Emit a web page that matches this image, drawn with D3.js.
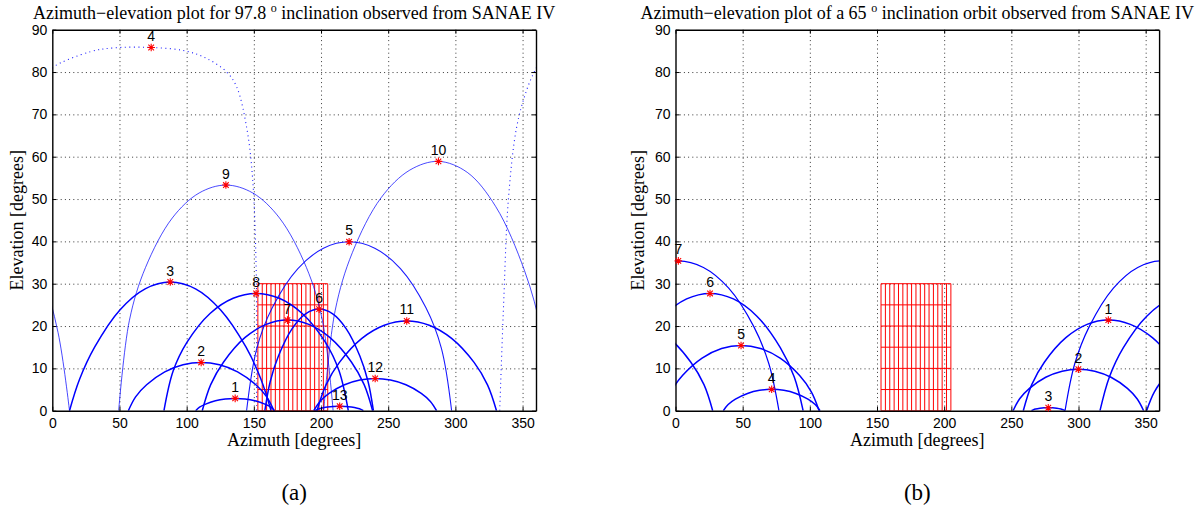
<!DOCTYPE html>
<html>
<head>
<meta charset="utf-8">
<script src="https://cdn.jsdelivr.net/npm/d3@7"></script>
<style>
  body { margin: 0; background: #fff; }
  svg { display: block; }
</style>
</head>
<body>
<svg id="chart" width="1203" height="508"></svg>
<script>
// Left panel: 97.8 deg inclination, passes as [azimuth, elevation]
const L1 = [[106.7,0],[109.6,0.84],[114.1,1.56],[121.4,2.34],[128.8,2.76],[136.1,2.9],[143.5,2.76],[150.8,2.34],[158.2,1.56],[162.6,0.84],[165.5,0]];
const L2 = [[56.6,0],[62.0,3.28],[70.2,6.13],[83.7,9.19],[97.3,10.86],[110.8,11.4],[124.4,10.86],[137.9,9.19],[151.5,6.13],[159.6,3.28],[165,0]];
const L3 = [[12.8,0],[20.3,7.42],[31.6,15.05],[50.3,23.8],[69.1,28.79],[87.8,30.4],[106.6,28.79],[125.3,23.8],[144.1,15.05],[155.3,7.42],[162.8,0]];
const L4 = [[-27,0],[-24,26],[-20.6,49.7],[-14.4,67],[-7,75.7],[-1.3,80],[1,81.2],[28.3,84.8],[45.6,85.7],[73.6,85.8],[98.9,85],[114.9,83.2],[129.8,80],[137.2,76.5],[144.6,67],[149,55.2],[151.8,32.4],[152,0]];
const L5 = [[144.6,0],[152.2,14.72],[163.7,24.3],[182.8,33.56],[201.8,38.38],[220.9,39.9],[240.0,38.38],[259.1,33.56],[278.1,24.3],[289.6,14.72],[297.2,0]];
const L6 = [[158.2,0],[162.2,6.91],[168.3,12.91],[178.4,19.34],[188.5,22.87],[198.6,24],[208.7,22.87],[218.8,19.34],[228.9,12.91],[235.0,6.91],[239,0]];
const L7 = [[111.6,0],[117.9,6.16],[127.5,11.51],[143.3,17.25],[159.2,20.39],[175,21.4],[190.9,20.39],[206.7,17.25],[222.6,11.51],[232.1,6.16],[238.4,0]];
const L8 = [[83.1,0],[90.0,9.42],[100.3,16.18],[117.4,22.96],[134.6,26.56],[151.7,27.7],[168.9,26.56],[186,22.96],[203.2,16.18],[213.4,9.42],[220.3,0]];
const L9 = [[49.4,0],[57.4,21.37],[69.4,33.85],[89.3,45.52],[109.3,51.43],[129.2,53.3],[149.2,51.43],[169.1,45.52],[189.1,33.85],[201.0,21.37],[209,0]];
const L10 = [[202,0],[210.5,23.62],[223.4,37.4],[244.7,50.3],[266.1,56.84],[287.4,58.9],[308.8,56.31],[330.1,48.18],[351.5,33.04],[364.3,18.44],[372.8,0]];
const L11 = [[197,0],[203.7,6.11],[213.7,11.41],[230.4,17.09],[247.1,20.2],[263.8,21.2],[280.5,20.2],[297.2,17.09],[313.9,11.41],[323.9,6.11],[330.6,0]];
const L12 = [[194.6,0],[199.2,2.19],[206.0,4.09],[217.5,6.13],[228.9,7.24],[240.3,7.6],[251.7,7.24],[263.2,6.13],[274.6,4.09],[281.4,2.19],[286,0]];
const L13 = [[195.7,0],[197.5,0.31],[200.2,0.57],[204.7,0.85],[209.1,1.01],[213.6,1.06],[218.1,1.01],[222.6,0.85],[227.0,0.57],[229.7,0.31],[231.5,0]];
const leftPasses = [L1, L2, L3, L4, L5, L6, L7, L8, L9, L10, L11, L12, L13];
const leftPeaks = [[136.1,2.9],[110.8,11.4],[87.8,30.4],[73.6,85.8],[220.9,39.9],[198.6,24.0],[175,21.4],[151.7,27.7],[129.2,53.3],[287.4,58.9],[263.8,21.2],[240.3,7.6],[213.9,1.06]];
const leftLabels = ['1','2','3','4','5','6','7','8','9','10','11','12','13'];

// Right panel: 65 deg inclination
const R1 = [[258.9,0],[265.2,6.16],[274.7,11.51],[290.6,17.25],[306.4,20.39],[322.2,21.4],[338.6,20.39],[355.0,17.25],[371.3,11.51],[381.2,6.16],[387.7,0]];
const R2 = [[251.3,0],[256.2,2.82],[263.5,5.27],[275.6,7.9],[287.8,9.34],[299.9,9.8],[312.1,9.34],[324.2,7.9],[336.4,5.27],[343.6,2.82],[348.5,0]];
const R3 = [[265,0],[266.3,0.2],[268.1,0.38],[271.3,0.56],[274.4,0.67],[277.5,0.7],[280.6,0.67],[283.8,0.56],[286.9,0.38],[288.8,0.2],[290,0]];
const R4 = [[35.6,0],[39.2,1.45],[44.6,2.72],[53.6,4.07],[62.6,4.81],[71.6,5.05],[80.6,4.81],[89.6,4.07],[98.6,2.72],[104.0,1.45],[107.6,0]];
const R5 = [[-9.3,0],[-3.5,4.44],[5.2,8.29],[19.8,12.41],[34.3,14.68],[48.8,15.4],[63.3,14.68],[77.9,12.41],[92.4,8.29],[101.1,4.44],[106.9,0]];
const R6 = [[-44,0],[-37.0,7.98],[-26.6,14.9],[-9.2,22.33],[8.3,26.4],[25.7,27.7],[43.1,26.4],[60.6,22.33],[78.0,14.9],[88.4,7.98],[95,0]];
const R7 = [[-70,0],[-62.8,11.08],[-52.0,19.86],[-34.0,28.96],[-15.9,33.84],[2.1,35.4],[20.8,33.84],[39.6,28.96],[58.3,19.86],[69.5,11.08],[77,0]];
const rightPasses = [R1, R2, R3, R4, R5, R6, R7];
const rightPeaks = [[322.2,21.4],[299.9,9.8],[277.5,0.7],[71.6,5.05],[48.8,15.4],[25.7,27.7],[2.1,35.4]];
const rightLabels = ['1','2','3','4','5','6','7'];

// red keep-out grid (azimuth / elevation lines)
const boxAz = [153,156.25,159.5,162.75,166,169.25,172.5,175.75,179,182.25,185.5,188.75,192,195.25,198.5,201.75,205];
const boxEl = [0,5,10,15,20,25,30];

const xTicks = [0,50,100,150,200,250,300,350];
const yTicks = [0,10,20,30,40,50,60,70,80,90];

const serif = '"Liberation Serif", "Times New Roman", serif';
const sans = '"Liberation Sans", Arial, Helvetica, sans-serif';

const svg = d3.select('#chart');

function drawPanel(opt) {
  const x = d3.scaleLinear().domain([0, 360]).range([opt.x0, opt.x1]);
  const y = d3.scaleLinear().domain([0, 90]).range([410.7, 29.7]);
  const g = svg.append('g');

  const clipId = 'clip' + opt.id;
  svg.append('clipPath').attr('id', clipId)
    .append('rect')
    .attr('x', opt.x0).attr('y', y(90))
    .attr('width', opt.x1 - opt.x0).attr('height', y(0) - y(90));

  // dotted grid
  g.append('g')
    .attr('transform', `translate(0,${y(0)})`)
    .call(d3.axisBottom(x).tickValues(xTicks.slice(1)).tickSize(-(y(0) - y(90))).tickFormat(''))
    .call(s => s.select('.domain').remove())
    .selectAll('line')
    .style('stroke', '#222').style('stroke-width', 0.9).style('stroke-dasharray', '1,3.2');

  g.append('g')
    .attr('transform', `translate(${opt.x0},0)`)
    .call(d3.axisLeft(y).tickValues(yTicks.slice(1, -1)).tickSize(-(opt.x1 - opt.x0)).tickFormat(''))
    .call(s => s.select('.domain').remove())
    .selectAll('line')
    .style('stroke', '#222').style('stroke-width', 0.9).style('stroke-dasharray', '1,3.2');

  // red rectangle grid
  const box = g.append('g').attr('clip-path', `url(#${clipId})`);
  box.selectAll('.bv').data(boxAz).enter().append('line')
    .attr('x1', d => x(d)).attr('x2', d => x(d))
    .attr('y1', y(boxEl[0])).attr('y2', y(boxEl[boxEl.length - 1]))
    .style('stroke', '#ff0000').style('stroke-width', 1);
  box.selectAll('.bh').data(boxEl).enter().append('line')
    .attr('y1', d => y(d)).attr('y2', d => y(d))
    .attr('x1', x(boxAz[0])).attr('x2', x(boxAz[boxAz.length - 1]))
    .style('stroke', '#ff0000').style('stroke-width', 1);

  // passes, drawn with wrap-around at 0/360
  const curves = g.append('g').attr('clip-path', `url(#${clipId})`);
  opt.passes.forEach((pts, i) => {
    const st = opt.style(i);
    [-360, 0, 360].forEach(shift => {
      const line = d3.line()
        .x(d => x(d[0] + shift))
        .y(d => y(d[1]))
        .curve(d3.curveCatmullRom.alpha(0.5));
      curves.append('path')
        .datum(pts)
        .attr('d', line)
        .style('fill', 'none')
        .style('stroke', '#0000ff')
        .style('stroke-width', st.w)
        .style('stroke-opacity', st.o)
        .style('stroke-dasharray', st.dash || null);
    });
  });

  // axes box with inward ticks
  const tl = 4;
  g.append('g').attr('transform', `translate(0,${y(0)})`)
    .call(d3.axisBottom(x).tickValues(xTicks).tickSizeInner(-tl).tickSizeOuter(0).tickPadding(7))
    .call(s => s.selectAll('text').style('font-family', sans).style('font-size', '14px').attr('fill', '#000'));
  g.append('g').attr('transform', `translate(0,${y(90)})`)
    .call(d3.axisTop(x).tickValues(xTicks).tickSizeInner(-tl).tickSizeOuter(0).tickFormat(''));
  g.append('g').attr('transform', `translate(${opt.x0},0)`)
    .call(d3.axisLeft(y).tickValues(yTicks).tickSizeInner(-tl).tickSizeOuter(0).tickPadding(5))
    .call(s => s.selectAll('text').style('font-family', sans).style('font-size', '14px').attr('fill', '#000'));
  g.append('g').attr('transform', `translate(${opt.x1},0)`)
    .call(d3.axisRight(y).tickValues(yTicks).tickSizeInner(-tl).tickSizeOuter(0).tickFormat(''));
  g.selectAll('.domain').style('stroke', '#000').style('stroke-width', 1.4);
  g.selectAll('.tick line').filter(function () { return !this.style.strokeDasharray; })
    .style('stroke', '#000');

  // peak markers and numbers
  const star = 'M-3.8,0H3.8M0,-3.8V3.8M-2.8,-2.8L2.8,2.8M-2.8,2.8L2.8,-2.8';
  g.selectAll('.pk').data(opt.peaks).enter().append('path')
    .attr('d', star)
    .attr('transform', d => `translate(${x(d[0])},${y(d[1])})`)
    .style('stroke', '#ff0000').style('stroke-width', 1.1).style('fill', 'none');
  g.selectAll('.pl').data(opt.peaks).enter().append('text')
    .attr('x', d => x(d[0]))
    .attr('y', d => y(d[1]) - 6.5)
    .attr('text-anchor', 'middle')
    .style('font-family', sans).style('font-size', '14px')
    .text((d, i) => opt.labels[i]);

  // titles and labels
  const cx = (opt.x0 + opt.x1) / 2;
  const t = g.append('text').attr('x', cx).attr('y', 18.5).attr('text-anchor', 'middle')
    .style('font-family', serif).style('font-size', '18px');
  t.append('tspan').text(opt.title[0]);
  t.append('tspan').attr('dy', -7).style('font-size', '12px').text('o');
  t.append('tspan').attr('dy', 7).text(opt.title[1]);

  g.append('text').attr('x', cx).attr('y', 446).attr('text-anchor', 'middle')
    .style('font-family', serif).style('font-size', '18px').text('Azimuth [degrees]');
  g.append('text')
    .attr('transform', `translate(${opt.yl},${(y(0) + y(90)) / 2}) rotate(-90)`)
    .attr('text-anchor', 'middle')
    .style('font-family', serif).style('font-size', '18px').text('Elevation [degrees]');
  g.append('text').attr('x', cx).attr('y', 500).attr('text-anchor', 'middle')
    .style('font-family', serif).style('font-size', '23px').text(opt.tag);
}

drawPanel({
  id: 'a', x0: 52.3, x1: 536.0, yl: 23,
  passes: leftPasses, peaks: leftPeaks, labels: leftLabels,
  title: ['Azimuth\u2212elevation plot for 97.8 ', ' inclination observed from SANAE IV'],
  tag: '(a)',
  style: i => {
    if (i === 3) return { w: 1.1, o: 0.9, dash: '1,3.5' };
    if (i === 8 || i === 9) return { w: 0.9, o: 0.8 };
    if (i === 4) return { w: 1.1, o: 0.9 };
    return { w: 1.5, o: 1 };
  }
});

drawPanel({
  id: 'b', x0: 675.5, x1: 1159.1, yl: 644,
  passes: rightPasses, peaks: rightPeaks, labels: rightLabels,
  title: ['Azimuth\u2212elevation plot of a 65 ', ' inclination orbit observed from SANAE IV'],
  tag: '(b)',
  style: i => (i === 6 ? { w: 1.2, o: 1 } : { w: 1.5, o: 1 })
});
</script>
</body>
</html>
